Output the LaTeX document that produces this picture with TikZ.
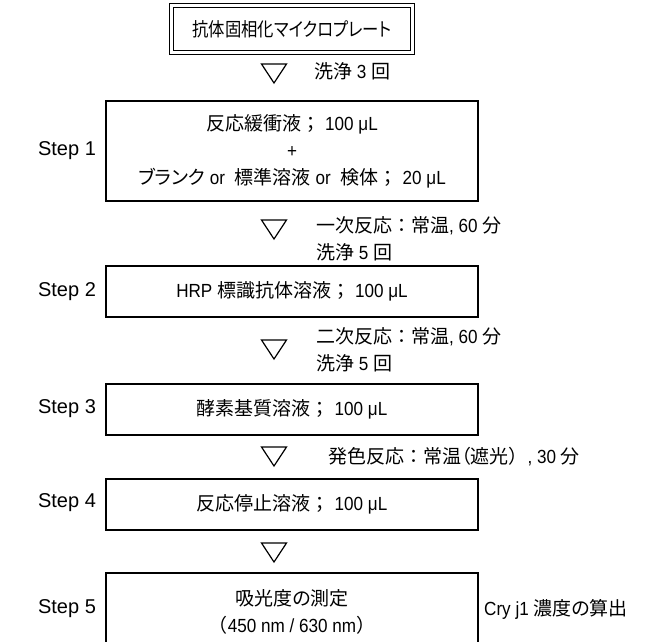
\documentclass[tikz,border=0pt]{standalone}
\usepackage{fontspec}
\usepackage{graphicx}
\setmainfont[FakeStretch=0.9]{Liberation Sans}
\newfontfamily\stepfont{Liberation Sans}
\newfontfamily\jp[RawFeature=+palt]{Noto Sans CJK JP}
\newfontfamily\jpf{Noto Sans CJK JP}
\newcommand\J[1]{{\jp\fontsize{19}{22}\selectfont #1}}
\newcommand\F[1]{{\jpf\fontsize{19}{22}\selectfont #1}}
\newcommand\semi{\F{；}\hspace{5pt}}
\tikzset{
  x=1pt, y=-1pt,
  stepbox/.style={draw, line width=1.3pt, minimum width=372, inner sep=0pt, align=center,
    font=\fontsize{19}{27}\selectfont},
  platebox/.style={draw, double, double distance=3.2pt, line width=1.1pt, minimum width=240.6,
    minimum height=46.6, inner sep=0pt, font=\fontsize{19}{27}\selectfont},
  steplabel/.style={font=\stepfont\fontsize{20}{22}\selectfont, inner sep=0pt},
  note/.style={anchor=west, align=left, inner sep=0pt, font=\fontsize{19}{27}\selectfont},
  tri/.style={line width=1.2pt, line join=miter},
}
\newcommand\tri[2]{\draw[tri] (#1-12.5,#2) -- (#1+12.5,#2) -- (#1,#2+19) -- cycle;}
\begin{document}
\begin{tikzpicture}
\useasboundingbox (0,0) rectangle (647,641);
\clip (0,0) rectangle (647,641);
\node[platebox] (plate) at (292,29) {\scalebox{0.86}[1]{\J{抗体固相化マイクロプレート}}};
\node[stepbox, minimum height=100] (s1) at (292,151)
  {\J{反応緩衝液}\semi 100 μL\\+\\\J{ブランク} or\hspace{5pt} \J{標準溶液} or\hspace{5pt} \J{検体}\semi 20 μL};
\node[stepbox, minimum height=51] (s2) at (292,291.5) {HRP \J{標識抗体溶液}\semi 100 μL};
\node[stepbox, minimum height=51] (s3) at (292,409.5) {\J{酵素基質溶液}\semi 100 μL};
\node[stepbox, minimum height=51] (s4) at (292,504.5) {\J{反応停止溶液}\semi 100 μL};
\node[stepbox, minimum height=78] (s5) at (292,612) {\J{吸光度の測定}\\\F{（}450 nm / 630 nm\F{）}};
\node[steplabel] (l1) at (67,151) {Step 1};
\node[steplabel] (l2) at (67,292) {Step 2};
\node[steplabel] (l3) at (67,409) {Step 3};
\node[steplabel] (l4) at (67,503) {Step 4};
\node[steplabel] (l5) at (67,609) {Step 5};
\tri{274}{64}
\tri{274}{220}
\tri{274}{340}
\tri{274}{447}
\tri{274}{543}
\node[note] (n1) at (314,71) {\J{洗浄} 3 \J{回}};
\node[note] (n2) at (316,238.5) {\J{一次反応}\F{：}\J{常温}, 60 \J{分}\\\J{洗浄} 5 \J{回}};
\node[note] (n3) at (316,350) {\J{二次反応}\F{：}\J{常温}, 60 \J{分}\\\J{洗浄} 5 \J{回}};
\node[note] (n4) at (328,457) {\J{発色反応}\F{：}\J{常温（遮光}\F{）}, 30 \J{分}};
\node[note] (n5) at (484,609) {Cry j1 \J{濃度の算出}};
\end{tikzpicture}
\end{document}
